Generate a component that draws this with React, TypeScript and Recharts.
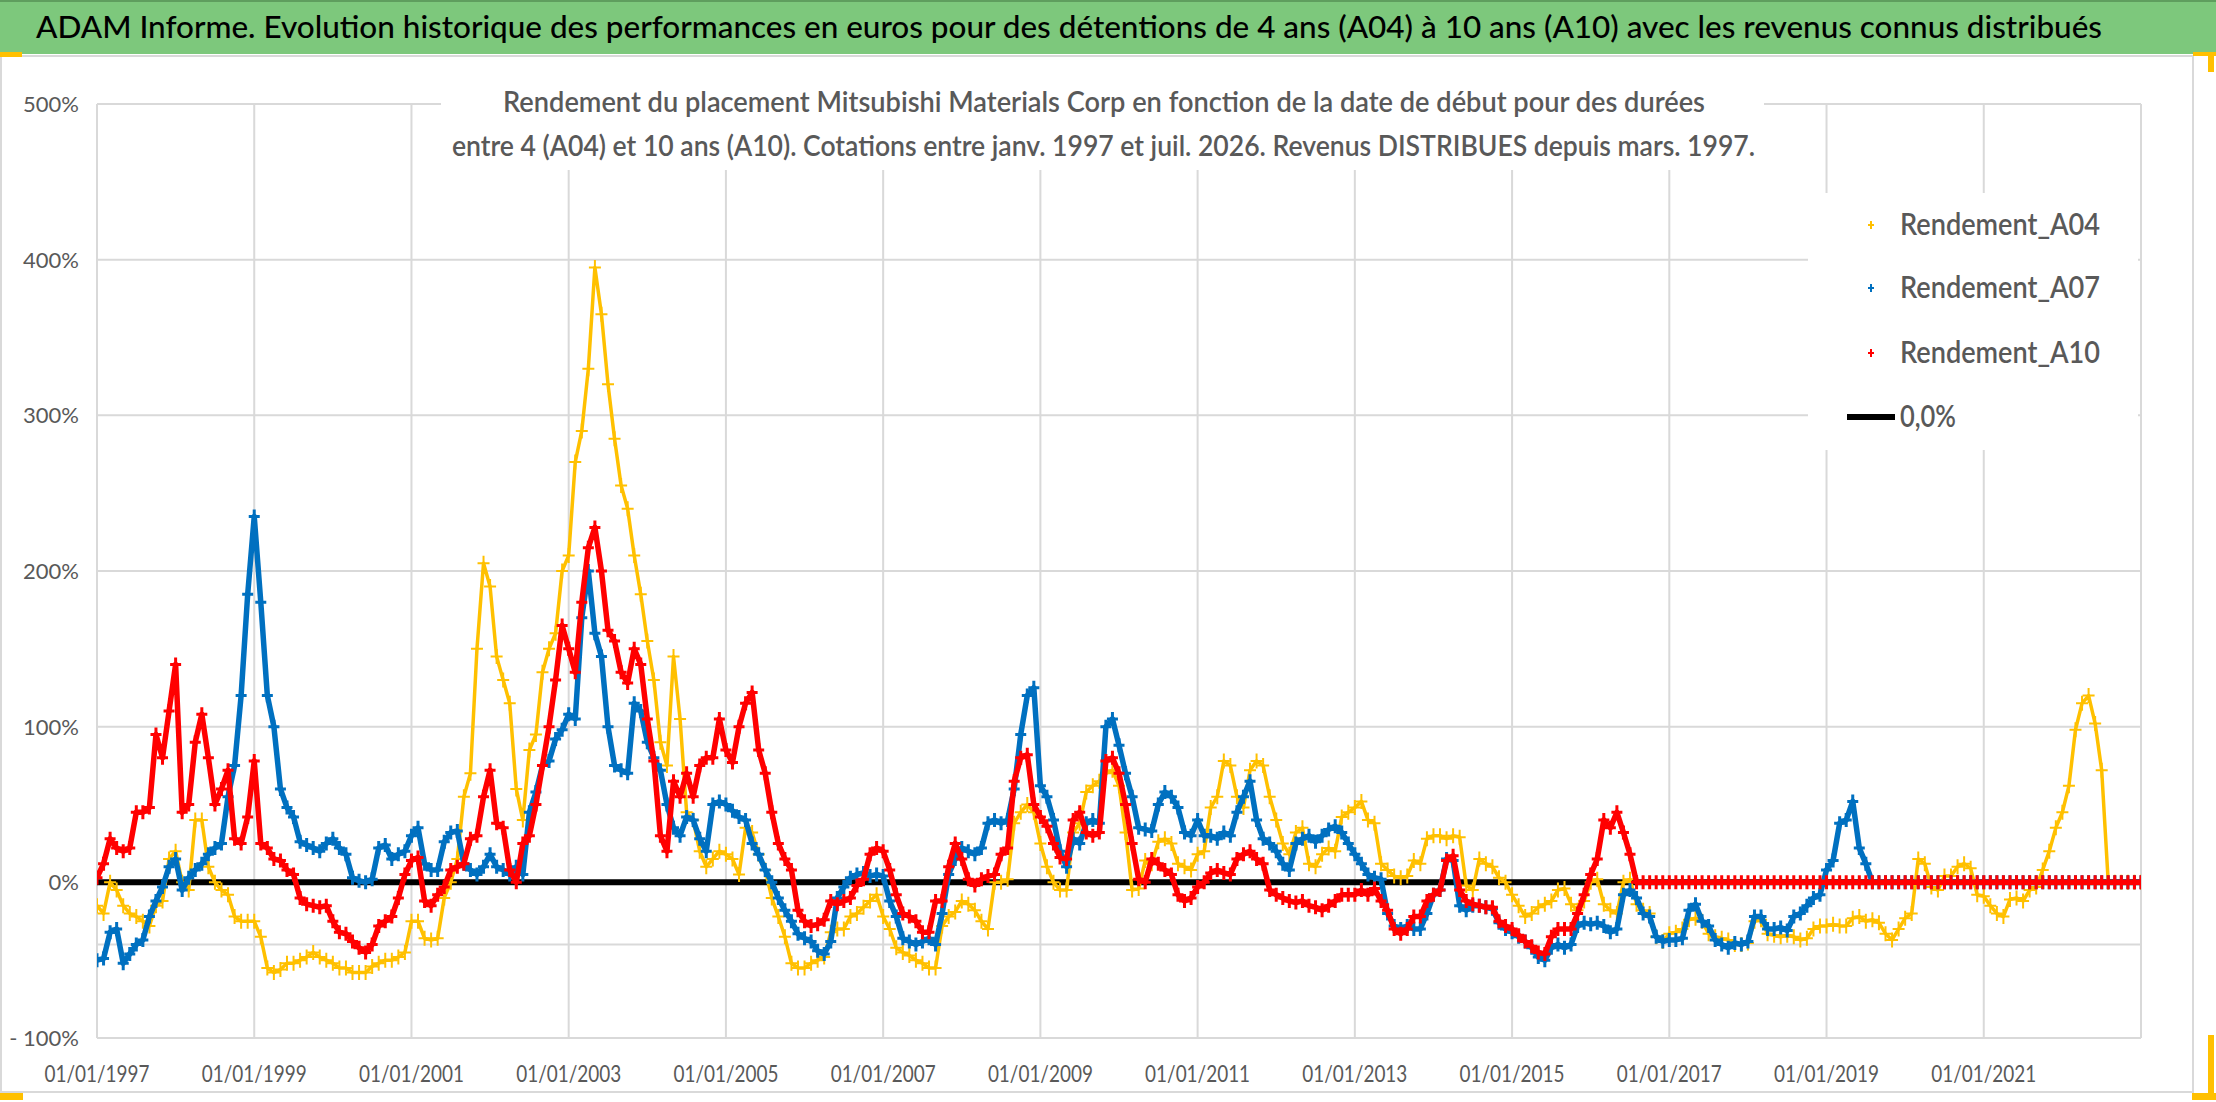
import React from 'react';
import { ScatterChart, Scatter, XAxis, YAxis, CartesianGrid } from 'recharts';

// Monthly readings (one value per month, from January 1997), in %
const FIRST_YEAR = 1997;

const RENDEMENT_A04 = [
  -15, -20, 0, -5, -15, -20, -22, -25, -28, -15, -12, 15, // 1997
  20, 0, -5, 40, 40, 10, 0, -5, -8, -22, -25, -25, // 1998
  -25, -35, -55, -58, -56, -52, -52, -50, -48, -45, -48, -50, // 1999
  -52, -55, -55, -58, -58, -58, -54, -52, -50, -50, -48, -45, // 2000
  -25, -25, -36, -37, -36, -10, 0, 15, 55, 70, 150, 205, // 2001
  190, 145, 130, 115, 60, 40, 85, 95, 135, 150, 160, 200, // 2002
  210, 270, 290, 330, 395, 365, 320, 285, 255, 240, 210, 185, // 2003
  155, 130, 90, 75, 145, 105, 45, 40, 20, 10, 15, 20, // 2004
  18, 15, 5, 35, 32, 18, 8, -10, -22, -35, -52, -55, // 2005
  -55, -52, -50, -48, -32, -30, -30, -22, -20, -16, -12, -8, // 2006
  -22, -30, -42, -45, -47, -50, -52, -55, -55, -28, -22, -19, // 2007
  -12, -14, -18, -25, -30, 0, 0, 2, 38, 45, 50, 45, // 2008
  25, 10, 0, -5, -5, 32, 38, 58, 62, 65, 70, 72, // 2009
  62, 32, -5, -4, 14, 12, 26, 28, 25, 12, 10, 8, // 2010
  18, 20, 48, 55, 78, 75, 55, 48, 72, 78, 75, 55, // 2011
  40, 25, 18, 32, 35, 12, 10, 18, 22, 20, 42, 45, // 2012
  48, 52, 40, 38, 12, 8, 4, 3, 4, 14, 12, 28, // 2013
  30, 30, 28, 30, 29, -2, -5, 15, 12, 10, 3, 0, // 2014
  -8, -15, -22, -20, -16, -14, -12, -5, -4, -14, -18, -12, // 2015
  0, 2, -14, -18, -20, 0, 2, -14, -18, -20, -35, -38, // 2016
  -33, -32, -30, -24, -23, -25, -33, -35, -36, -37, -40, -40, // 2017
  -39, -25, -24, -33, -34, -35, -34, -35, -37, -36, -30, -28, // 2018
  -28, -27, -28, -28, -23, -22, -25, -24, -26, -33, -37, -30, // 2019
  -23, -20, 15, 12, -3, -5, 4, 4, 10, 12, 9, -8, // 2020
  -9, -15, -20, -22, -11, -10, -12, -5, -3, 8, 20, 35, // 2021
  45, 62, 98, 115, 120, 102, 72, 0, 0, 0, 0, 0, // 2022
  0, // 2023
];

const RENDEMENT_A07 = [
  -50, -49, -32, -30, -52, -46, -40, -37, -22, -12, -3, 10, // 1997
  15, -5, 3, 8, 12, 18, 22, 25, 55, 75, 120, 185, // 1998
  235, 180, 120, 100, 60, 48, 42, 26, 24, 22, 20, 25, // 1999
  28, 22, 18, 3, 1, 0, 2, 22, 24, 15, 18, 20, // 2000
  30, 35, 12, 8, 8, 26, 32, 33, 12, 8, 5, 10, // 2001
  18, 10, 8, 5, 10, 5, 45, 58, 75, 78, 92, 98, // 2002
  108, 105, 170, 200, 160, 145, 100, 75, 72, 70, 115, 110, // 2003
  90, 80, 72, 50, 35, 30, 42, 40, 28, 20, 50, 52, // 2004
  50, 46, 42, 40, 25, 18, 8, 0, -10, -18, -25, -33, // 2005
  -36, -38, -44, -46, -38, -10, -3, 3, 5, 6, 4, 5, // 2006
  4, -12, -22, -36, -38, -40, -38, -36, -40, -20, 5, 15, // 2007
  22, 20, 18, 22, 38, 40, 38, 40, 60, 95, 120, 125, // 2008
  62, 55, 40, 20, 10, 28, 25, 38, 40, 38, 100, 105, // 2009
  88, 70, 55, 35, 34, 33, 50, 58, 55, 48, 32, 30, // 2010
  40, 30, 30, 28, 32, 30, 45, 55, 65, 40, 28, 25, // 2011
  20, 12, 8, 25, 28, 30, 26, 30, 34, 36, 32, 25, // 2012
  18, 12, 5, 3, 2, -20, -28, -30, -28, -30, -30, -20, // 2013
  -8, -5, 15, 14, -15, -18, -15, -15, -16, -17, -26, -30, // 2014
  -32, -35, -38, -42, -48, -50, -42, -40, -42, -40, -28, -26, // 2015
  -27, -26, -28, -32, -30, -8, -5, -10, -20, -22, -35, -38, // 2016
  -37, -37, -36, -18, -14, -25, -28, -37, -40, -42, -39, -40, // 2017
  -38, -22, -22, -30, -30, -29, -31, -22, -20, -15, -10, -8, // 2018
  8, 14, 38, 40, 52, 22, 12, 0, 0, 0, 0, 0, // 2019
  0, 0, 0, 0, 0, 0, 0, 0, 0, 0, 0, 0, // 2020
  0, 0, 0, 0, 0, 0, 0, 0, 0, 0, 0, 0, // 2021
  0, 0, 0, 0, 0, 0, 0, 0, 0, 0, 0, 0, // 2022
  0, // 2023
];

const RENDEMENT_A10 = [
  3, 12, 28, 22, 20, 22, 45, 45, 48, 95, 80, 110, // 1997
  140, 45, 50, 90, 108, 80, 50, 60, 72, 28, 25, 42, // 1998
  78, 25, 22, 15, 14, 8, 5, -10, -14, -15, -16, -15, // 1999
  -25, -32, -33, -38, -42, -45, -40, -28, -25, -22, -10, 5, // 2000
  14, 16, -12, -15, -8, -3, 8, 10, 12, 28, 30, 55, // 2001
  72, 38, 35, 8, 0, 25, 30, 50, 75, 100, 130, 165, // 2002
  150, 135, 180, 215, 228, 200, 162, 155, 135, 128, 150, 140, // 2003
  105, 78, 30, 20, 65, 55, 70, 55, 75, 80, 80, 105, // 2004
  85, 77, 100, 115, 122, 85, 70, 45, 25, 15, 8, -18, // 2005
  -25, -28, -27, -24, -12, -14, -12, -10, -2, 2, 18, 22, // 2006
  20, 8, -8, -20, -22, -25, -32, -32, -12, -12, 10, 25, // 2007
  15, 2, -2, 2, 4, 5, 18, 22, 65, 80, 82, 50, // 2008
  42, 36, 25, 16, 15, 40, 45, 32, 30, 32, 78, 80, // 2009
  70, 50, 25, 2, 0, 15, 12, 8, 5, -8, -12, -10, // 2010
  -3, 0, 6, 8, 6, 5, 15, 18, 20, 15, 12, -5, // 2011
  -8, -10, -12, -13, -12, -15, -16, -18, -15, -12, -8, -8, // 2012
  -8, -5, -8, -4, -12, -18, -30, -33, -30, -22, -22, -12, // 2013
  -8, -5, 14, 17, -5, -12, -14, -15, -16, -16, -25, -28, // 2014
  -30, -34, -38, -41, -45, -46, -35, -30, -30, -30, -20, -8, // 2015
  5, 15, 40, 35, 45, 32, 18, 0, 0, 0, 0, 0, // 2016
  0, 0, 0, 0, 0, 0, 0, 0, 0, 0, 0, 0, // 2017
  0, 0, 0, 0, 0, 0, 0, 0, 0, 0, 0, 0, // 2018
  0, 0, 0, 0, 0, 0, 0, 0, 0, 0, 0, 0, // 2019
  0, 0, 0, 0, 0, 0, 0, 0, 0, 0, 0, 0, // 2020
  0, 0, 0, 0, 0, 0, 0, 0, 0, 0, 0, 0, // 2021
  0, 0, 0, 0, 0, 0, 0, 0, 0, 0, 0, 0, // 2022
  0, // 2023
];

// the 0,0% reference series: two ends
const ZERO_LINE_X = [1997, 2023];
const ZERO_LINE_Y = [0, 0];

const X_TICKS = [1997, 1999, 2001, 2003, 2005, 2007, 2009, 2011, 2013, 2015, 2017, 2019, 2021];
// -40 only carries a gridline (no label), as in the original
const Y_TICKS = [-100, -40, 0, 100, 200, 300, 400, 500];

const TITLE =
  'ADAM Informe. Evolution historique des performances en euros pour des détentions de 4 ans (A04) à 10 ans (A10) avec les revenus connus distribués';
const SUBTITLE_1 =
  'Rendement du placement Mitsubishi Materials Corp en fonction de la date de début pour des durées';
const SUBTITLE_2 =
  'entre 4 (A04) et 10 ans (A10). Cotations entre janv. 1997 et juil. 2026. Revenus DISTRIBUES depuis mars. 1997.';

const FONT = 'Lato, "Noto Sans", sans-serif';
const GREY_TEXT = '#595959';
const GRID = '#d9d9d9';

// hw/hh: half width/height of the "+" marker, sw: its stroke, lw: joining stroke
const SERIES = [
  { name: 'Rendement_A04', values: RENDEMENT_A04, color: '#FFC000', hw: 6, hh: 7.5, sw: 2, lw: 3.5 },
  { name: 'Rendement_A07', values: RENDEMENT_A07, color: '#0070C0', hw: 5.5, hh: 7, sw: 3, lw: 5.5 },
  { name: 'Rendement_A10', values: RENDEMENT_A10, color: '#FF0000', hw: 5.5, hh: 7, sw: 3, lw: 5.5 },
];

const toPoints = (values: number[]) =>
  values.map((v, i) => ({ x: FIRST_YEAR + i / 12, y: v }));

const zeroPoints = ZERO_LINE_X.map((x, i) => ({ x, y: ZERO_LINE_Y[i] }));

function plusShape(color: string, hw: number, hh: number, sw: number) {
  return (props: any) => {
    const { cx, cy } = props;
    if (cx == null || cy == null) return <g />;
    return (
      <path
        d={`M${cx - hw},${cy}H${cx + hw}M${cx},${cy - hh}V${cy + hh}`}
        stroke={color}
        strokeWidth={sw}
        fill="none"
      />
    );
  };
}

function DateTick({ x, y, payload }: any) {
  return (
    <text
      x={x}
      y={y + 44}
      textAnchor="middle"
      fontFamily={FONT}
      fontSize={23}
      fill={GREY_TEXT}
      textLength={105}
      lengthAdjust="spacingAndGlyphs"
    >
      {`01/01/${payload.value}`}
    </text>
  );
}

function PercentTick({ x, y, payload }: any) {
  const v = payload.value;
  if (v === -40) return <g />;
  const label = v < 0 ? `- ${Math.abs(v)}%` : `${v}%`;
  return (
    <text x={x - 18} y={y + 8} textAnchor="end" fontFamily={FONT} fontSize={22} fill={GREY_TEXT}>
      {label}
    </text>
  );
}

function Frame() {
  return (
    <svg width={2216} height={1102} style={{ position: 'absolute', left: 0, top: 0 }}>
      <rect x={1} y={56} width={2192} height={1036} fill="#fff" stroke={GRID} strokeWidth={2} />
      <rect x={0} y={0} width={2216} height={54} fill="#7dc87c" />
      <rect x={0} y={0} width={2216} height={2} fill="#5f9e5e" />
      {/* selection handles */}
      <rect x={0} y={52} width={22} height={5} fill="#FFC000" />
      <rect x={2193} y={52} width={23} height={4} fill="#FFC000" />
      <rect x={2208} y={52} width={6} height={20} fill="#FFC000" />
      <rect x={0} y={1093} width={23} height={7} fill="#FFC000" />
      <rect x={2208} y={1035} width={6} height={65} fill="#FFC000" />
      <rect x={2192} y={1093} width={24} height={7} fill="#FFC000" />
    </svg>
  );
}

function Overlay() {
  const rows = [...SERIES.map((s) => ({ name: s.name, color: s.color, line: false })), { name: '0,0%', color: '#000', line: true }];
  const baselines = [235, 298, 363, 427];
  return (
    <svg
      width={2216}
      height={1102}
      style={{ position: 'absolute', left: 0, top: 0, pointerEvents: 'none' }}
    >
      <text
        x={36}
        y={38}
        fontFamily={FONT}
        fontSize={31}
        fontWeight={500}
        fill="#000"
        textLength={2066}
        lengthAdjust="spacingAndGlyphs"
      >
        {TITLE}
      </text>

      {/* subtitle box */}
      <rect x={441} y={60} width={1323} height={110} fill="#fff" />
      <text x={503} y={112} fontFamily={FONT} fontSize={29} fontWeight={600} fill={GREY_TEXT} textLength={1202} lengthAdjust="spacingAndGlyphs">
        {SUBTITLE_1}
      </text>
      <text x={452} y={156} fontFamily={FONT} fontSize={29} fontWeight={600} fill={GREY_TEXT} textLength={1303} lengthAdjust="spacingAndGlyphs">
        {SUBTITLE_2}
      </text>

      {/* legend */}
      <rect x={1808} y={193} width={330} height={257} fill="#fff" />
      {rows.map((r, i) => {
        const by = baselines[i];
        const cy = by - 10;
        return (
          <g key={r.name}>
            {r.line ? (
              <line x1={1847} x2={1895} y1={cy} y2={cy} stroke="#000" strokeWidth={6} />
            ) : (
              <path d={`M${1868},${cy}H${1874}M${1871},${cy - 4}V${cy + 4}`} stroke={r.color} strokeWidth={2} />
            )}
            <text
              x={1900}
              y={by}
              fontFamily={FONT}
              fontSize={30}
              fontWeight={600}
              fill={GREY_TEXT}
              textLength={r.line ? 56 : 200}
              lengthAdjust="spacingAndGlyphs"
            >
              {r.name}
            </text>
          </g>
        );
      })}
    </svg>
  );
}

export default function App() {
  return (
    <div style={{ position: 'absolute', left: 0, top: 0, width: 2216, height: 1102, background: '#fff', fontFamily: FONT }}>
      <Frame />
      <div style={{ position: 'absolute', left: 0, top: 0 }}>
        <ScatterChart width={2216} height={1102} margin={{ top: 104, right: 75, bottom: 0, left: 0 }}>
          <CartesianGrid stroke={GRID} strokeWidth={2} />
          <XAxis
            type="number"
            dataKey="x"
            domain={[1997, 2023]}
            ticks={X_TICKS}
            interval={0}
            height={64}
            tickSize={0}
            tickMargin={0}
            tickLine={false}
            axisLine={{ stroke: GRID, strokeWidth: 2 }}
            tick={<DateTick />}
            allowDataOverflow
          />
          <YAxis
            type="number"
            dataKey="y"
            domain={[-100, 500]}
            ticks={Y_TICKS}
            interval={0}
            width={97}
            tickSize={0}
            tickMargin={0}
            tickLine={false}
            axisLine={{ stroke: GRID, strokeWidth: 2 }}
            tick={<PercentTick />}
            allowDataOverflow
          />
          <Scatter
            name="0,0%"
            data={zeroPoints}
            line={{ stroke: '#000', strokeWidth: 6 }}
            lineType="joint"
            shape={() => <g />}
            isAnimationActive={false}
          />
          {SERIES.map((s) => (
            <Scatter
              key={s.name}
              name={s.name}
              data={toPoints(s.values)}
              line={{ stroke: s.color, strokeWidth: s.lw, strokeLinejoin: 'round' }}
              lineType="joint"
              shape={plusShape(s.color, s.hw, s.hh, s.sw)}
              fill={s.color}
              isAnimationActive={false}
            />
          ))}
        </ScatterChart>
      </div>
      <Overlay />
    </div>
  );
}
